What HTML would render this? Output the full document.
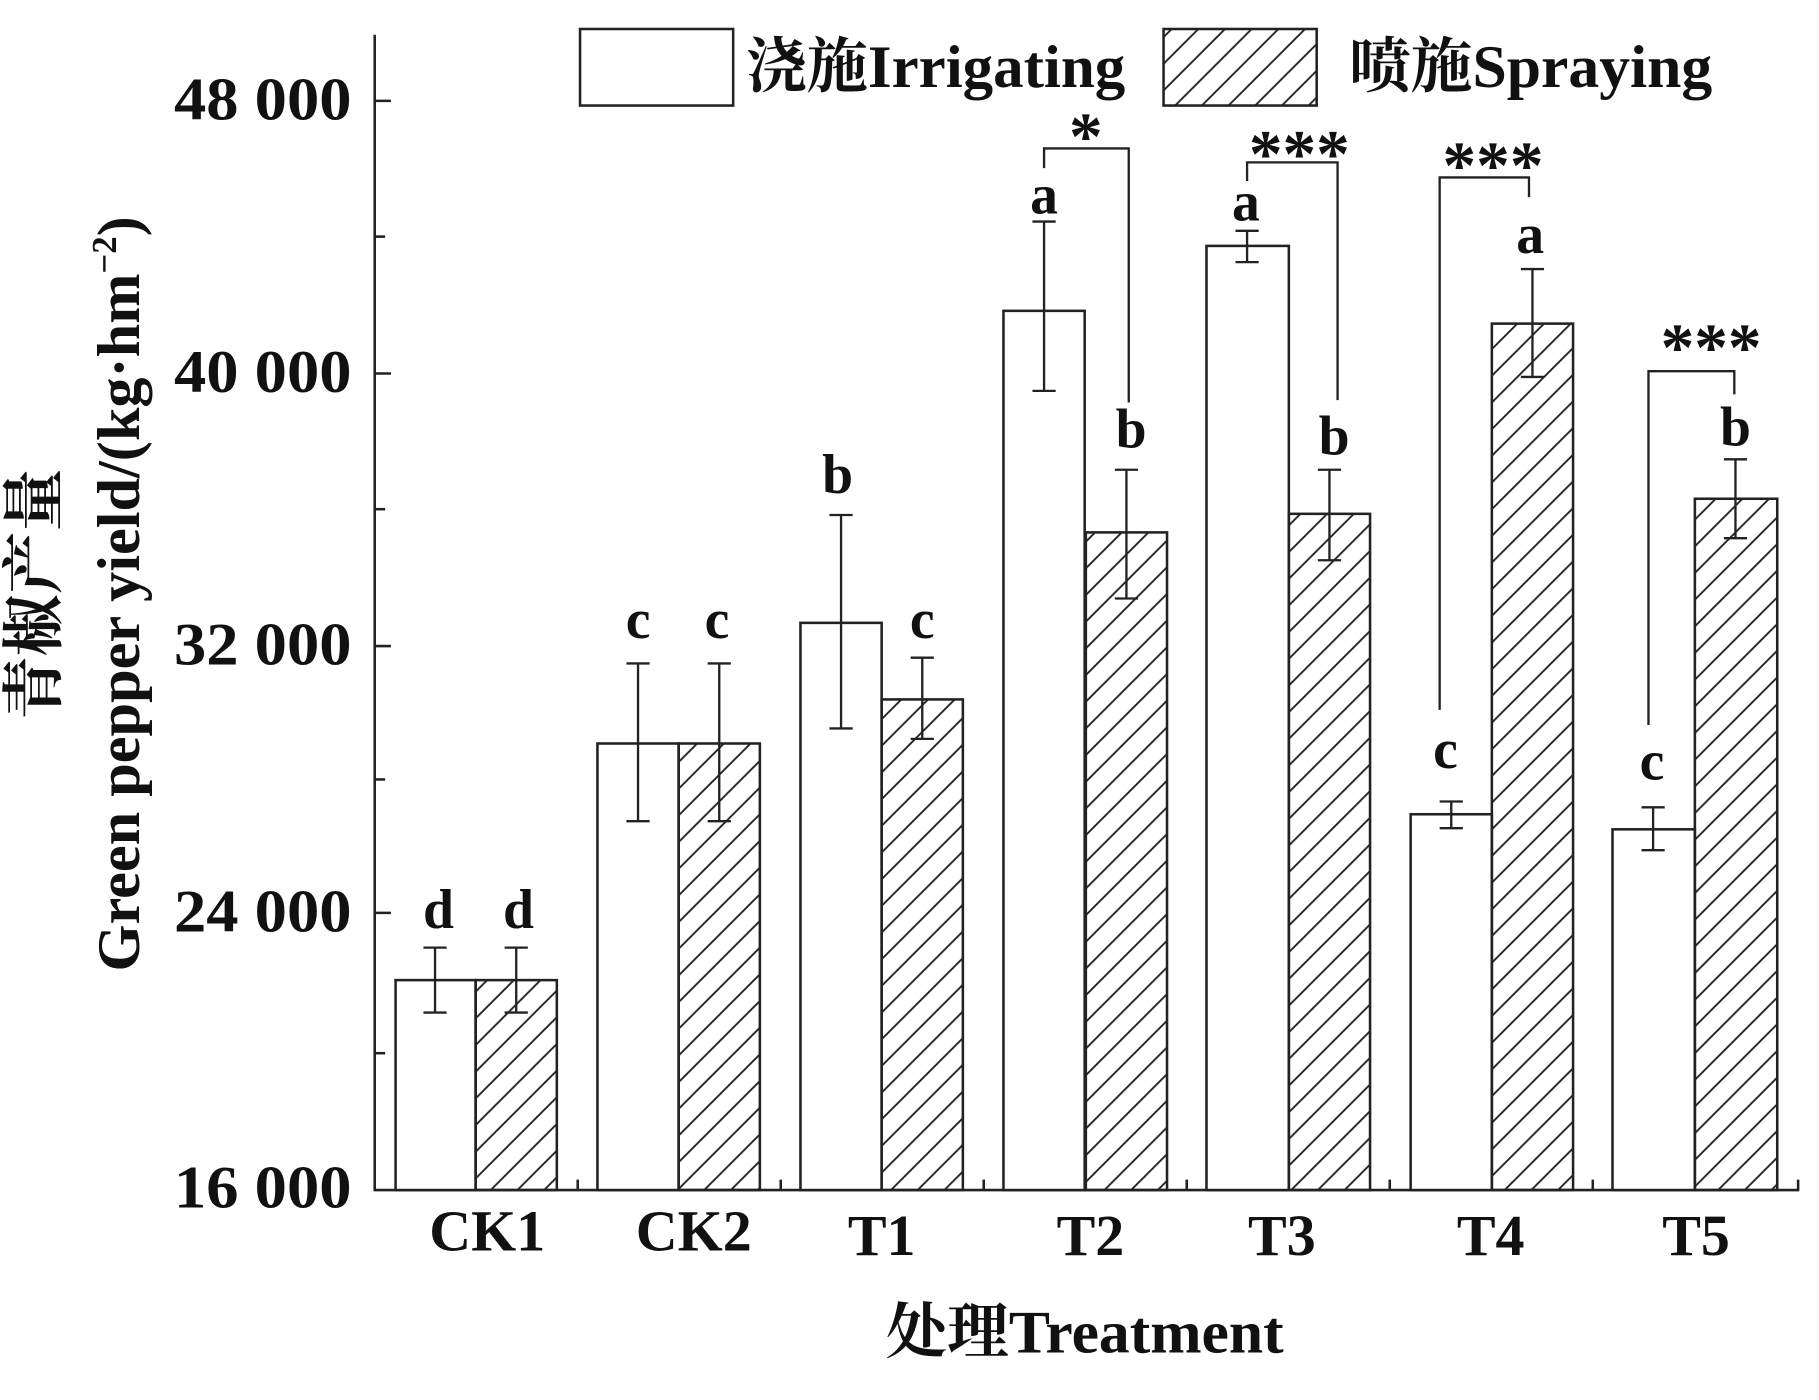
<!DOCTYPE html>
<html><head><meta charset="utf-8"><style>
html,body{margin:0;padding:0;background:#fff}
svg{display:block}
text{font-family:"Liberation Serif","Noto Serif CJK SC",serif;fill:#111}
</style></head><body>
<svg width="1819" height="1400" viewBox="0 0 1568 1207" preserveAspectRatio="none" xmlns="http://www.w3.org/2000/svg">
<defs>
<pattern id="h" patternUnits="userSpaceOnUse" width="23" height="23">
<path d="M-2,25 L25,-2 M-25,25 L2,-2 M21,25 L48,-2" stroke="#222" stroke-width="1.6"/>
</pattern>
</defs>
<g stroke="#222" stroke-width="2.2" fill="none">
<line x1="323" y1="30" x2="323" y2="1026"/>
<line x1="322" y1="1026" x2="1551" y2="1026"/>
<line x1="323" y1="87" x2="337" y2="87"/>
<line x1="323" y1="204" x2="332" y2="204"/>
<line x1="323" y1="322" x2="337" y2="322"/>
<line x1="323" y1="439" x2="332" y2="439"/>
<line x1="323" y1="557" x2="337" y2="557"/>
<line x1="323" y1="672" x2="332" y2="672"/>
<line x1="323" y1="787" x2="337" y2="787"/>
<line x1="323" y1="908" x2="332" y2="908"/>
<line x1="498" y1="1026" x2="498" y2="1017"/>
<line x1="673" y1="1026" x2="673" y2="1017"/>
<line x1="848" y1="1026" x2="848" y2="1017"/>
<line x1="1023" y1="1026" x2="1023" y2="1017"/>
<line x1="1198" y1="1026" x2="1198" y2="1017"/>
<line x1="1373" y1="1026" x2="1373" y2="1017"/>
<line x1="1550" y1="1026" x2="1550" y2="1017"/>
</g>
<g stroke="#222" stroke-width="2.2">
<rect x="341" y="845" width="69" height="181" fill="#fff"/>
<rect x="410" y="845" width="70" height="181" fill="url(#h)"/>
<rect x="515" y="641" width="70" height="385" fill="#fff"/>
<rect x="585" y="641" width="70" height="385" fill="url(#h)"/>
<rect x="690" y="537" width="70" height="489" fill="#fff"/>
<rect x="760" y="603" width="70" height="423" fill="url(#h)"/>
<rect x="865" y="268" width="70" height="758" fill="#fff"/>
<rect x="936" y="459" width="70" height="567" fill="url(#h)"/>
<rect x="1040" y="212" width="71" height="814" fill="#fff"/>
<rect x="1111" y="443" width="70" height="583" fill="url(#h)"/>
<rect x="1216" y="702" width="70" height="324" fill="#fff"/>
<rect x="1286" y="279" width="70" height="747" fill="url(#h)"/>
<rect x="1390" y="715" width="71" height="311" fill="#fff"/>
<rect x="1461" y="430" width="71" height="596" fill="url(#h)"/>
</g>
<g stroke="#222" stroke-width="2" fill="none">
<path d="M375,817V873M365,817H385M365,873H385"/>
<path d="M445,817V873M435,817H455M435,873H455"/>
<path d="M550,572V708M540,572H560M540,708H560"/>
<path d="M620,572V708M610,572H630M610,708H630"/>
<path d="M725,444V628M715,444H735M715,628H735"/>
<path d="M795,567V637M785,567H805M785,637H805"/>
<path d="M900,191V337M890,191H910M890,337H910"/>
<path d="M971,405V516M961,405H981M961,516H981"/>
<path d="M1075,199V226M1065,199H1085M1065,226H1085"/>
<path d="M1146,405V483M1136,405H1156M1136,483H1156"/>
<path d="M1251,691V714M1241,691H1261M1241,714H1261"/>
<path d="M1321,232V325M1311,232H1331M1311,325H1331"/>
<path d="M1425,696V733M1415,696H1435M1415,733H1435"/>
<path d="M1496,396V464M1486,396H1506M1486,464H1506"/>
<path d="M900,145V128H973V347"/>
<path d="M1075,156V140H1153V345"/>
<path d="M1241,612V153H1318V170"/>
<path d="M1421,625V320H1495V340"/>
</g>
<g font-size="48" font-weight="bold" text-anchor="middle">
<text x="378" y="800">d</text><text x="447" y="800">d</text>
<text x="550" y="550">c</text><text x="618" y="550">c</text>
<text x="722" y="425">b</text><text x="795" y="550">c</text>
<text x="900" y="184">a</text><text x="975" y="386">b</text>
<text x="1074" y="190">a</text><text x="1150" y="392">b</text>
<text x="1246" y="662">c</text><text x="1319" y="218">a</text>
<text x="1424" y="672">c</text><text x="1496" y="384">b</text>
</g>
<g font-size="58" font-weight="bold" text-anchor="middle">
<text x="936" y="137">*</text>
<text x="1120" y="152">***</text>
<text x="1287" y="162">***</text>
<text x="1475" y="319">***</text>
</g>
<g font-size="52" font-weight="bold">
<text x="150" y="103" textLength="153" lengthAdjust="spacingAndGlyphs">48 000</text>
<text x="150" y="338" textLength="153" lengthAdjust="spacingAndGlyphs">40 000</text>
<text x="150" y="573" textLength="153" lengthAdjust="spacingAndGlyphs">32 000</text>
<text x="150" y="803" textLength="153" lengthAdjust="spacingAndGlyphs">24 000</text>
<text x="150" y="1041" textLength="153" lengthAdjust="spacingAndGlyphs">16 000</text>
</g>
<g font-size="50" font-weight="bold" text-anchor="middle">
<text x="420" y="1078">CK1</text>
<text x="598" y="1078">CK2</text>
<text x="760" y="1082">T1</text>
<text x="940" y="1082">T2</text>
<text x="1105" y="1082">T3</text>
<text x="1285" y="1082">T4</text>
<text x="1462" y="1082">T5</text>
<text x="935" y="1166" font-size="52" textLength="343" lengthAdjust="spacingAndGlyphs">处理Treatment</text>
</g>
<text transform="translate(120,512) rotate(-90)" font-size="52" font-weight="bold" text-anchor="middle">Green pepper yield/(kg·hm<tspan font-size="30" dy="-20">−2</tspan><tspan dy="20">)</tspan></text>
<text transform="translate(48,512) rotate(-90)" font-size="54" font-weight="bold" text-anchor="middle">青椒产量</text>
<rect x="500" y="25" width="132" height="66" fill="#fff" stroke="#222" stroke-width="2.2"/>
<rect x="1003" y="25" width="132" height="66" fill="url(#h)" stroke="#222" stroke-width="2.2"/>
<text x="643" y="75" font-size="52" font-weight="bold" textLength="327" lengthAdjust="spacingAndGlyphs">浇施Irrigating</text>
<text x="1163" y="75" font-size="52" font-weight="bold" textLength="313" lengthAdjust="spacingAndGlyphs">喷施Spraying</text>
</svg>
</body></html>
